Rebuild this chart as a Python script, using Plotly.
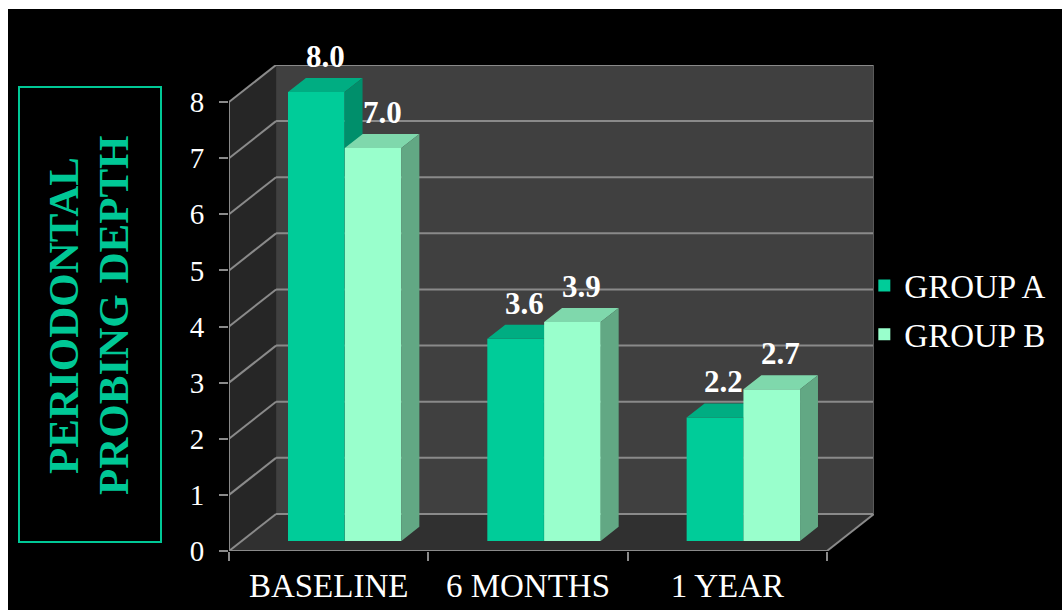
import plotly.graph_objects as go

# ---- data ----
categories = ["BASELINE", "6 MONTHS", "1 YEAR"]
group_a = [8.0, 3.6, 2.2]
group_b = [7.0, 3.9, 2.7]
series_names = ["GROUP A", "GROUP B"]
y_ticks = [0, 1, 2, 3, 4, 5, 6, 7, 8]
y_title_lines = ["PERIODONTAL", "PROBING DEPTH"]

# ---- styling / 3D geometry (axis units) ----
FONT = "Liberation Serif"
COL_A, COL_A_TOP, COL_A_SIDE = "#00CC99", "#00AD82", "#008F6B"
COL_B, COL_B_TOP, COL_B_SIDE = "#99FFCC", "#7FD8AC", "#62A884"
TEAL = "#00C896"
GRID = "#8A8A8A"
WALL_DX, WALL_DY = 0.236, 0.66        # depth of the box (back wall offset)
BAR_BASE = 0.18                        # bars sit a little back on the floor
BAR_DX, BAR_DY = 0.09, 0.25            # depth of each bar
OFFSETS = [-0.204, 0.081]
WIDTH = 0.284

n = len(categories)
xs = list(range(n))
x_lo, x_hi = -0.5, n - 0.5
y_top = max(y_ticks)

fig = go.Figure()

# ---- walls & floor (shapes below the traces) ----
shapes = []
def poly(pts, fill, line=None, width=0):
    path = "M " + " L ".join(f"{x},{y}" for x, y in pts) + " Z"
    shapes.append(dict(type="path", path=path, xref="x", yref="y", layer="below",
                       fillcolor=fill, line=dict(color=line or fill, width=width)))

def seg(x0, y0, x1, y1, color=GRID, width=2):
    shapes.append(dict(type="line", x0=x0, y0=y0, x1=x1, y1=y1, xref="x", yref="y",
                       layer="below", line=dict(color=color, width=width)))

# back wall
poly([(x_lo + WALL_DX, WALL_DY), (x_hi + WALL_DX, WALL_DY),
      (x_hi + WALL_DX, y_top + WALL_DY), (x_lo + WALL_DX, y_top + WALL_DY)], "#404040")
# side wall
poly([(x_lo, 0), (x_lo + WALL_DX, WALL_DY), (x_lo + WALL_DX, y_top + WALL_DY),
      (x_lo, y_top)], "#262626")
# floor
poly([(x_lo, 0), (x_hi, 0), (x_hi + WALL_DX, WALL_DY), (x_lo + WALL_DX, WALL_DY)], "#303030")

# gridlines on side wall and back wall
for t in y_ticks:
    seg(x_lo, t, x_lo + WALL_DX, t + WALL_DY)
    seg(x_lo + WALL_DX, t + WALL_DY, x_hi + WALL_DX, t + WALL_DY)
# wall edges
seg(x_lo, 0, x_lo, y_top)
seg(x_lo, 0, x_hi, 0)
seg(x_hi, 0, x_hi + WALL_DX, WALL_DY)
seg(x_hi + WALL_DX, WALL_DY, x_hi + WALL_DX, y_top + WALL_DY, color="#5A5A5A", width=2)

# pixel -> paper helpers for the plot area (229..874 x 65..551)
def px_x(p):
    return (p - 229) / 645
def px_y(p):
    return (551 - p) / 486

# title box
shapes.append(dict(type="rect", xref="paper", yref="paper",
                   x0=px_x(19), x1=px_x(161), y0=px_y(542), y1=px_y(87),
                   line=dict(color=TEAL, width=2)))
# white page strips at the top and left edge
shapes.append(dict(type="rect", xref="paper", yref="paper", x0=px_x(-5), x1=px_x(1070),
                   y0=px_y(9), y1=px_y(-5), fillcolor="white", line=dict(width=0)))
shapes.append(dict(type="rect", xref="paper", yref="paper", x0=px_x(-5), x1=px_x(8),
                   y0=px_y(620), y1=px_y(-5), fillcolor="white", line=dict(width=0)))

annotations = []

# ---- bars ----
series = [(group_a, COL_A, COL_A_TOP, COL_A_SIDE),
          (group_b, COL_B, COL_B_TOP, COL_B_SIDE)]
z = 0
for (vals, c_front, c_top, c_side), name, off in zip(series, series_names, OFFSETS):
    fig.add_trace(go.Bar(
        x=xs, y=vals, base=BAR_BASE, offset=off, width=WIDTH, name=name,
        legendgroup=name,
        marker=dict(color=c_front, line=dict(width=0)), zorder=z, hoverinfo="skip"))
    tx, ty, sx, sy = [], [], [], []
    for x, v in zip(xs, vals):
        x0, x1 = x + off, x + off + WIDTH
        top = BAR_BASE + v
        tx += [x0, x1, x1 + BAR_DX, x0 + BAR_DX, x0, None]
        ty += [top, top, top + BAR_DY, top + BAR_DY, top, None]
        sx += [x1, x1 + BAR_DX, x1 + BAR_DX, x1, x1, None]
        sy += [BAR_BASE, BAR_BASE + BAR_DY, top + BAR_DY, top, BAR_BASE, None]
        # value label above the bar
        annotations.append(dict(
            x=x + off + WIDTH / 2 + BAR_DX / 2, y=top + BAR_DY, xref="x", yref="y",
            text=f"{v:.1f}", showarrow=False, xanchor="center", yanchor="bottom",
            yshift=2, font=dict(family=FONT, size=31, color="white", weight="bold")))
    fig.add_trace(go.Scatter(x=tx, y=ty, mode="lines", fill="toself", fillcolor=c_top,
                             line=dict(width=0, color=c_top), showlegend=False,
                             hoverinfo="skip", zorder=z + 1))
    fig.add_trace(go.Scatter(x=sx, y=sy, mode="lines", fill="toself", fillcolor=c_side,
                             line=dict(width=0, color=c_side), showlegend=False,
                             hoverinfo="skip", zorder=z + 1))
    z += 2

annotations += [
    dict(xref="paper", yref="paper", x=px_x(cx), y=px_y(315), text=line,
         textangle=-90, showarrow=False,
         font=dict(family=FONT, size=43, color=TEAL, weight="bold"),
         xanchor="center", yanchor="middle")
    for cx, line in zip([63, 113], y_title_lines)
]

fig.update_layout(
    width=1062, height=610,
    margin=dict(l=229, r=188, t=65, b=59, autoexpand=False),
    paper_bgcolor="black", plot_bgcolor="black",
    barmode="overlay",
    shapes=shapes,
    showlegend=True,
    legend=dict(x=0.985, xanchor="left", y=0.496, yanchor="middle",
                font=dict(family=FONT, size=33, color="white"),
                bgcolor="rgba(0,0,0,0)", itemwidth=30, tracegroupgap=3),
    xaxis=dict(range=[x_lo, x_hi + WALL_DX], tickvals=xs, ticktext=categories,
               ticks="", showgrid=False, zeroline=False, showline=False,
               automargin=False,
               tickfont=dict(family=FONT, size=33, color="white"),
               ticklabelstandoff=12,
               minor=dict(tickvals=[x_lo + i for i in range(n + 1)], ticks="outside",
                          ticklen=9, tickwidth=2, tickcolor=GRID, showgrid=False)),
    yaxis=dict(range=[0, y_top + WALL_DY], tickvals=y_ticks, ticks="outside",
               ticklen=9, tickwidth=2, tickcolor=GRID, showgrid=False, zeroline=False,
               showline=False, automargin=False,
               tickfont=dict(family=FONT, size=29, color="white"),
               ticklabelstandoff=9),
    annotations=annotations,
    hovermode=False,
)

fig.write_html("out.html")
